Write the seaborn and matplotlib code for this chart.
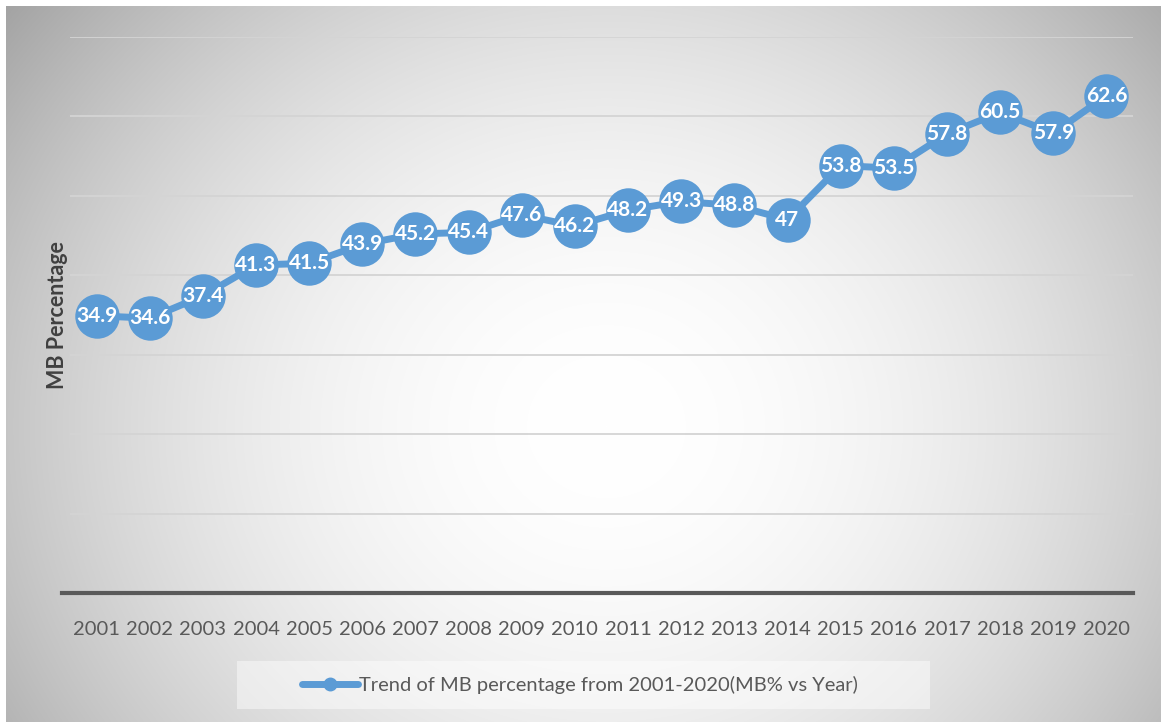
import numpy as np
import pandas as pd
import matplotlib
matplotlib.use("Agg")
import matplotlib.pyplot as plt
from matplotlib.patches import Rectangle
from matplotlib.lines import Line2D
import seaborn as sns

# Data
years = [2001, 2002, 2003, 2004, 2005, 2006, 2007, 2008, 2009, 2010,
         2011, 2012, 2013, 2014, 2015, 2016, 2017, 2018, 2019, 2020]
mb_percentage = [34.9, 34.6, 37.4, 41.3, 41.5, 43.9, 45.2, 45.4, 47.6, 46.2,
                 48.2, 49.3, 48.8, 47, 53.8, 53.5, 57.8, 60.5, 57.9, 62.6]
series_name = "Trend of MB percentage from 2001-2020(MB% vs Year)"
y_label = "MB Percentage"

BLUE = "#5b9bd5"
TEXT_GREY = "#595959"

sns.set_theme(style="white")
plt.rcParams["font.family"] = ["Lato", "DejaVu Sans"]

W, H = 1161, 722
fig = plt.figure(figsize=(W / 100, H / 100), dpi=100, facecolor="white")

# Radial grey-to-white gradient backdrop
bg = fig.add_axes([6 / W, 0, (W - 6) / W, (H - 6) / H], zorder=0)
gx, gy = np.meshgrid(np.arange(W - 6), np.arange(H - 6))
cx, cy, rx, ry = 600, 420, 620, 560
d = np.clip(np.sqrt(((gx - cx) / rx) ** 2 + ((gy - cy) / ry) ** 2), 0, 1.3)
shade = 1.0 - 0.24 * d ** 2.0
bg.imshow(np.dstack([shade] * 3), aspect="auto", origin="upper",
          extent=[0, 1, 0, 1], interpolation="bilinear")
bg.set_axis_off()

# Main plotting area
ax = fig.add_axes([70 / W, (H - 593) / H, (1133 - 70) / W, (593 - 37) / H], zorder=1)
ax.patch.set_alpha(0)

df = pd.DataFrame({"pos": np.arange(len(years)), "value": mb_percentage})
sns.lineplot(data=df, x="pos", y="value", ax=ax, color=BLUE, linewidth=5,
             marker="o", markersize=32, markeredgecolor=BLUE,
             markeredgewidth=0, zorder=3, legend=False)

for xi, v in zip(df["pos"], df["value"]):
    ax.text(xi, v, f"{v:g}", ha="center", va="center", color="white",
            fontsize=15, fontweight="bold", zorder=4)

ax.set_xlim(-0.5, len(years) - 0.5)
ax.set_ylim(0, 70)
ax.set_yticks(np.arange(10, 71, 10))
ax.yaxis.grid(True, color="#d4d4d4", linewidth=1.3)
ax.set_axisbelow(True)
ax.tick_params(axis="y", left=False, labelleft=False)
ax.set_xticks(df["pos"])
ax.set_xticklabels([str(y) for y in years], fontsize=14.5, color=TEXT_GREY)
ax.tick_params(axis="x", bottom=False, pad=14)
for side in ("top", "right", "left"):
    ax.spines[side].set_visible(False)
ax.spines["bottom"].set_color("#595959")
ax.spines["bottom"].set_linewidth(3)
ax.spines["bottom"].set_bounds(-0.65, len(years) - 0.5)
ax.set_xlabel("")
ax.set_ylabel(y_label, fontsize=15.5, fontweight="bold", color="#404040")
ax.yaxis.set_label_coords(-0.0015, 0.5)

# Legend panel
fig.patches.append(Rectangle((237 / W, (H - 709) / H), (930 - 237) / W, 48 / H,
                             transform=fig.transFigure, facecolor="white",
                             alpha=0.45, edgecolor="none", zorder=1))
handle = Line2D([], [], color=BLUE, linewidth=5, marker="o", markersize=9,
                markerfacecolor=BLUE, markeredgecolor=BLUE)
fig.legend([handle], [series_name], loc="center",
           bbox_to_anchor=(580 / W, (H - 685) / H), frameon=False,
           fontsize=14.5, labelcolor=TEXT_GREY, handlelength=2.8,
           handletextpad=0.05)

fig.savefig("out.png", dpi=100, facecolor="white")
